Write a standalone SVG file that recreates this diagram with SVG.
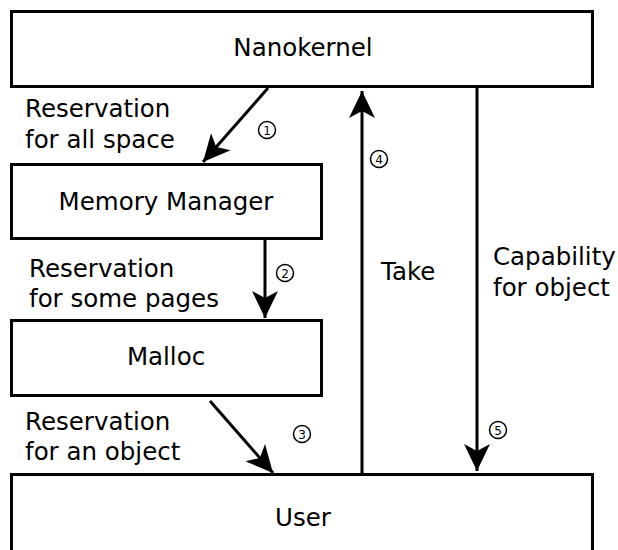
<svg xmlns="http://www.w3.org/2000/svg" width="618" height="550" viewBox="0 0 618 550">
  <style>
    .box { fill: #ffffff; stroke: #000000; stroke-width: 3; }
    .lbl { font-family: "DejaVu Sans", "Liberation Sans", sans-serif; font-size: 24.5px; fill: #000000; }
    .mid { text-anchor: middle; }
    .conn { stroke: #000000; stroke-width: 3; fill: none; }
    .num circle { fill: #ffffff; stroke: #000000; stroke-width: 1.5; }
    .num text { font-family: "DejaVu Sans", "Liberation Sans", sans-serif; font-size: 12px; text-anchor: middle; fill: #000000; }
  </style>
  <defs>
    <marker id="ah" markerUnits="userSpaceOnUse" markerWidth="30" markerHeight="30" viewBox="-28 -15 30 30" refX="0" refY="0" orient="auto">
      <path d="M0,0 L-27,-13 L-20,0 L-27,13 Z" fill="#000000"/>
    </marker>
  </defs>
  <rect width="618" height="550" fill="#ffffff"/>
  <g id="nanokernel">
    <rect class="box" x="11.5" y="11.5" width="581" height="75"/>
    <text class="lbl mid" x="303" y="56">Nanokernel</text>
  </g>
  <g id="memory-manager">
    <rect class="box" x="11.5" y="164.5" width="310" height="74"/>
    <text class="lbl mid" x="166" y="210">Memory Manager</text>
  </g>
  <g id="malloc">
    <rect class="box" x="11.5" y="320.5" width="310" height="75"/>
    <text class="lbl mid" x="166" y="365">Malloc</text>
  </g>
  <g id="user">
    <rect class="box" x="11.5" y="474.5" width="581" height="90"/>
    <text class="lbl mid" x="303" y="526">User</text>
  </g>
  <g id="connectors">
    <line class="conn" x1="268" y1="88" x2="203" y2="162" marker-end="url(#ah)"/>
    <line class="conn" x1="265" y1="239" x2="265" y2="318" marker-end="url(#ah)"/>
    <line class="conn" x1="210" y1="401" x2="273" y2="473" marker-end="url(#ah)"/>
    <line class="conn" x1="362" y1="474" x2="362" y2="91" marker-end="url(#ah)"/>
    <line class="conn" x1="477" y1="88" x2="477" y2="471" marker-end="url(#ah)"/>
  </g>
  <g id="labels">
    <text class="lbl" x="25" y="117">Reservation</text>
    <text class="lbl" x="25" y="148">for all space</text>
    <text class="lbl" x="29" y="277">Reservation</text>
    <text class="lbl" x="29" y="307">for some pages</text>
    <text class="lbl" x="25" y="430">Reservation</text>
    <text class="lbl" x="25" y="460">for an object</text>
    <text class="lbl" x="381" y="280">Take</text>
    <text class="lbl" x="493" y="265">Capability</text>
    <text class="lbl" x="493" y="296">for object</text>
  </g>
  <g id="numbers" class="num">
    <g><circle cx="267" cy="130" r="8.5"/><text x="267" y="134.5">1</text></g>
    <g><circle cx="285" cy="273" r="8.5"/><text x="285" y="277.5">2</text></g>
    <g><circle cx="302" cy="434" r="8.5"/><text x="302" y="438.5">3</text></g>
    <g><circle cx="379" cy="159" r="8.5"/><text x="379" y="163.5">4</text></g>
    <g><circle cx="498" cy="430" r="8.5"/><text x="498" y="434.5">5</text></g>
  </g>
</svg>
